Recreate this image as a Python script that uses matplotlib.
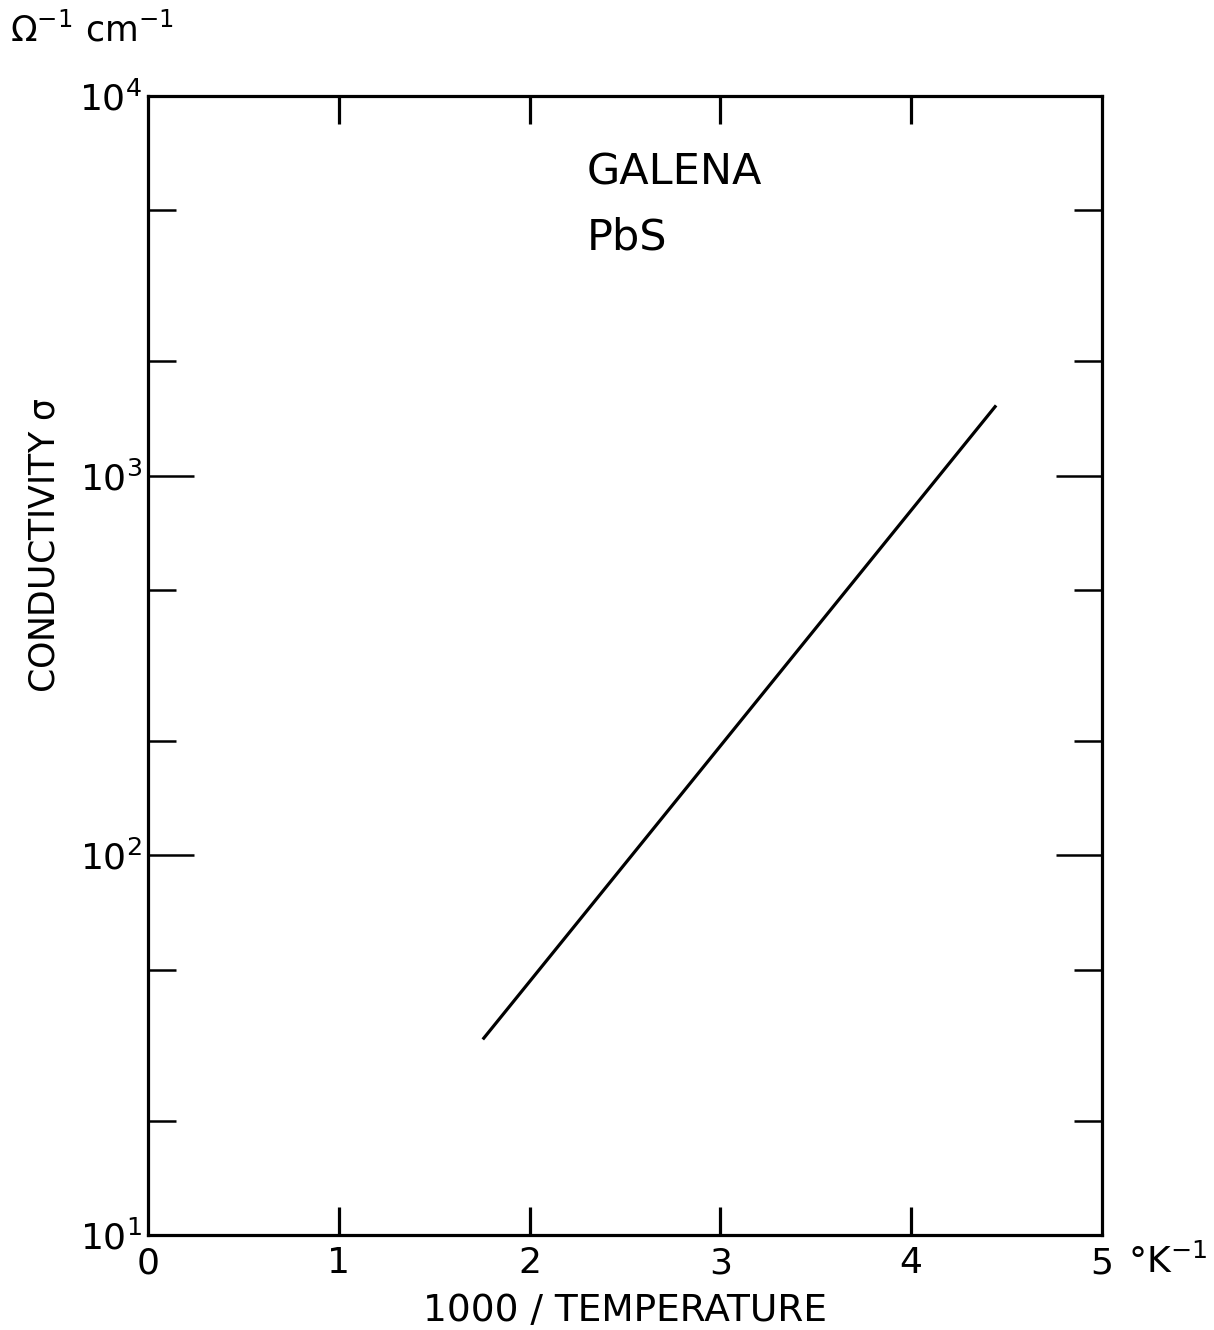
import matplotlib
matplotlib.use('Agg')
import matplotlib.pyplot as plt
from matplotlib.ticker import FixedLocator, NullFormatter

# Conductivity of galena vs reciprocal temperature
inv_temp = [1.76, 4.44]          # 1000/T, K^-1
sigma = [33.0, 1520.0]           # ohm^-1 cm^-1

x_ticks = [0, 1, 2, 3, 4, 5]
x_tick_labels = ['0', '1', '2', '3', '4', '5']
y_major = [10, 100, 1000, 10000]
y_major_labels = ['$10^{1}$', '$10^{2}$', '$10^{3}$', '$10^{4}$']
y_minor = [20, 50, 200, 500, 2000, 5000]

plt.rcParams['font.family'] = ['DejaVu Sans']
plt.rcParams['mathtext.default'] = 'regular'

fig = plt.figure(figsize=(12.14, 13.30), dpi=100)
ax = fig.add_axes([0.1219, 0.0714, 0.7858, 0.8564])

ax.plot(inv_temp, sigma, color='black', linewidth=2.3)

ax.set_xlim(0, 5)
ax.set_yscale('log')
ax.set_ylim(10, 10000)

for s in ax.spines.values():
    s.set_linewidth(2.3)

ax.set_xticks(x_ticks)
ax.set_xticklabels(x_tick_labels, fontsize=26)
ax.yaxis.set_major_locator(FixedLocator(y_major))
ax.set_yticklabels(y_major_labels, fontsize=26)
ax.yaxis.set_minor_locator(FixedLocator(y_minor))
ax.yaxis.set_minor_formatter(NullFormatter())

ax.tick_params(axis='x', which='major', direction='in', length=20, width=2.3,
               top=True, bottom=True, pad=8)
ax.tick_params(axis='y', which='major', direction='in', length=33, width=1.8,
               left=True, right=True, pad=4)
ax.tick_params(axis='y', which='minor', direction='in', length=20, width=1.8,
               left=True, right=True)
# ends of the x range carry no tick marks
for t in (ax.xaxis.get_major_ticks()[0], ax.xaxis.get_major_ticks()[-1]):
    t.tick1line.set_visible(False)
    t.tick2line.set_visible(False)

ax.text(0.46, 0.933, 'GALENA', transform=ax.transAxes, fontsize=31,
        ha='left', va='center')
ax.text(0.46, 0.876, 'PbS', transform=ax.transAxes, fontsize=31,
        ha='left', va='center')

fig.text(0.008, 0.977, r'$\Omega^{-1}\ cm^{-1}$', fontsize=25, ha='left', va='center')
fig.text(0.929, 0.051, r'$\degree K^{-1}$', fontsize=26, ha='left', va='center')
fig.text(0.515, 0.014, '1000 / TEMPERATURE', fontsize=27, ha='center', va='center')
fig.text(0.037, 0.59, r'CONDUCTIVITY $\sigma$', fontsize=25, rotation=90,
         ha='center', va='center')

fig.savefig('out.png', dpi=100)
